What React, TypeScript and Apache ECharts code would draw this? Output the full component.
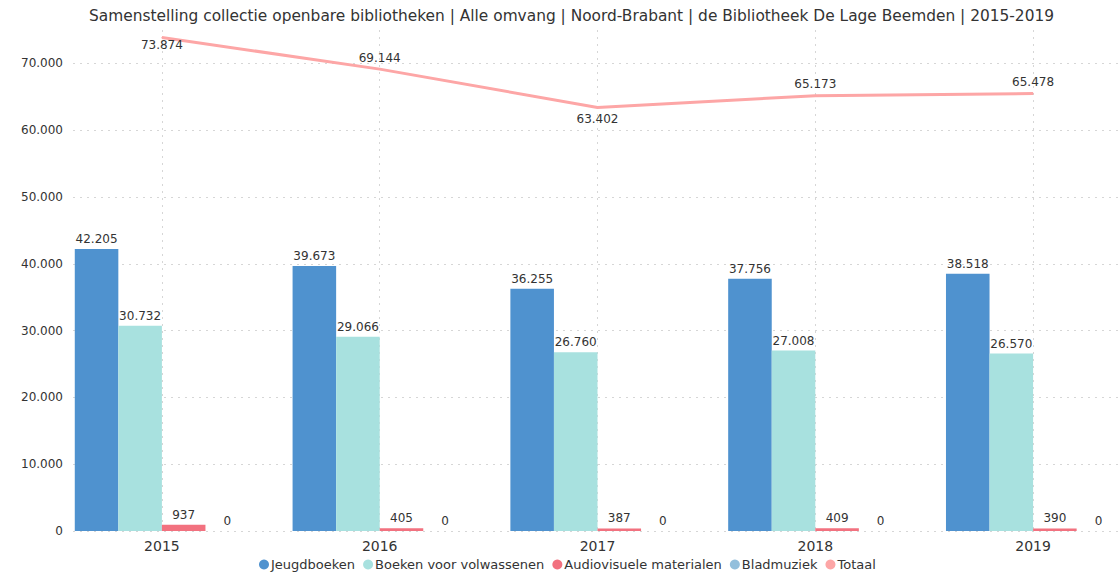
import React, { useEffect, useRef } from "react";
import * as echarts from "echarts";

const years = ["2015", "2016", "2017", "2018", "2019"];
const jeugdboeken = [42205, 39673, 36255, 37756, 38518];
const boekenVolwassenen = [30732, 29066, 26760, 27008, 26570];
const audiovisueel = [937, 405, 387, 409, 390];
const bladmuziek = [0, 0, 0, 0, 0];
const totaal = [73874, 69144, 63402, 65173, 65478];
const totaalLabelPos = ["bottom", "top", "bottom", "top", "top"];

const FONT = "'DejaVu Sans', sans-serif";
const fmt = (v: number) => String(Math.round(v)).replace(/\B(?=(\d{3})+(?!\d))/g, ".");

export default function App() {
  const ref = useRef<HTMLDivElement>(null);
  useEffect(() => {
    if (!ref.current) return;
    const chart = echarts.init(ref.current, undefined, { renderer: "svg" });
    const barLabel = {
      show: true,
      position: "top",
      distance: 4,
      color: "#333",
      fontSize: 12,
      fontFamily: FONT,
      formatter: (p: any) => fmt(p.value),
    };
    const dotted = { show: true, lineStyle: { color: "#d6d6d6", type: [2, 5], width: 1 } };
    chart.setOption({
      animation: false,
      textStyle: { fontFamily: FONT },
      title: {
        text: "Samenstelling collectie openbare bibliotheken | Alle omvang | Noord-Brabant | de Bibliotheek De Lage Beemden | 2015-2019",
        left: 84,
        top: 3,
        textStyle: { fontSize: 15.4, fontWeight: "normal", color: "#333", fontFamily: FONT },
      },
      legend: {
        bottom: 3,
        left: 254,
        icon: "circle",
        itemWidth: 10,
        itemHeight: 10,
        itemGap: 8,
        textStyle: { fontSize: 13, color: "#333", fontFamily: FONT, padding: [0, 0, 0, -3] },
        data: ["Jeugdboeken", "Boeken voor volwassenen", "Audiovisuele materialen", "Bladmuziek", "Totaal"],
      },
      grid: [
        { left: 53, width: 1089, top: 30, bottom: 48, outerBoundsMode: "none", containLabel: false },
        { left: 73, right: 0, top: 30, bottom: 48, outerBoundsMode: "none", containLabel: false },
      ],
      xAxis: [
        {
          type: "category",
          gridIndex: 0,
          data: years,
          axisLine: { show: false },
          axisTick: { show: false },
          axisLabel: { color: "#333", fontSize: 14, margin: 8, fontFamily: FONT },
          splitLine: { ...dotted, alignWithLabel: true },
        },
        { type: "value", gridIndex: 1, show: false, min: 0, max: 1 },
      ],
      yAxis: [
        { type: "value", gridIndex: 0, min: 0, max: 75000, interval: 10000, show: false, splitLine: { show: false } },
        {
          type: "value",
          gridIndex: 1,
          min: 0,
          max: 75000,
          interval: 10000,
          axisLine: { show: false },
          axisTick: { show: false },
          axisLabel: {
            color: "#333",
            fontSize: 12,
            margin: 10,
            fontFamily: FONT,
            formatter: (v: number) => (v > 70000 ? "" : fmt(v)),
          },
          splitLine: { ...dotted, showMaxLine: false },
        },
      ],
      series: [
        {
          name: "Jeugdboeken",
          type: "bar",
          data: jeugdboeken,
          barGap: "0%",
          barCategoryGap: "20%",
          itemStyle: { color: "#4F92CF" },
          label: barLabel,
        },
        { name: "Boeken voor volwassenen", type: "bar", data: boekenVolwassenen, itemStyle: { color: "#A8E1DF" }, label: barLabel },
        { name: "Audiovisuele materialen", type: "bar", data: audiovisueel, itemStyle: { color: "#F2717F" }, label: barLabel },
        { name: "Bladmuziek", type: "bar", data: bladmuziek, itemStyle: { color: "#93BFDC" }, label: barLabel },
        {
          name: "Totaal",
          type: "line",
          data: totaal.map((v, i) => ({
            value: v,
            label: { position: totaalLabelPos[i], distance: i === 0 ? 1 : 5 },
          })),
          showSymbol: true,
          symbol: "circle",
          symbolSize: 1,
          itemStyle: { color: "#FDA6A6" },
          lineStyle: { color: "#FDA6A6", width: 3 },
          label: {
            show: true,
            color: "#333",
            fontSize: 12,
            fontFamily: FONT,
            formatter: (p: any) => fmt(p.value),
          },
          z: 5,
        },
      ],
    });
    return () => chart.dispose();
  }, []);
  return <div ref={ref} style={{ position: "fixed", left: 0, top: 0, width: 1118, height: 579, background: "#fff" }} />;
}
